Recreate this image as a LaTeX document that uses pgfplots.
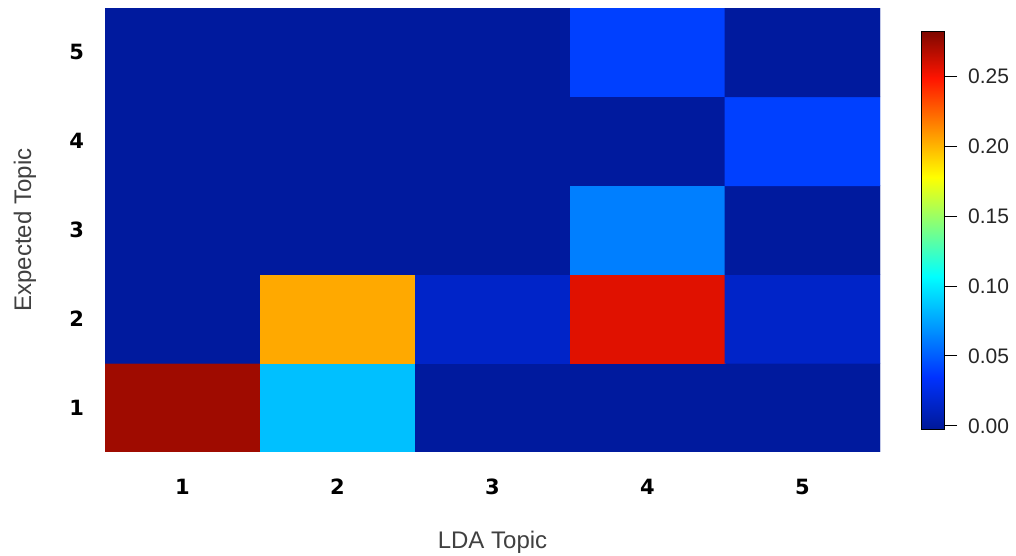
\documentclass[border=0pt]{standalone}
\usepackage{pgfplots}
\pgfplotsset{compat=1.18}
\usepackage{fontspec}
\setmainfont{Liberation Sans}
\newfontfamily\tickfont{DejaVu Sans}
\pgfplotsset{colormap={refjet}{rgb255(0cm)=(0,24,150) rgb255(38cm)=(0,50,255) rgb255(110cm)=(0,255,255) rgb255(181cm)=(255,255,0) rgb255(252cm)=(255,20,0) rgb255(285cm)=(128,8,0)}}
\begin{document}
\begin{tikzpicture}
\useasboundingbox (0,0) rectangle (508pt,278pt);
\begin{axis}[
  at={(52.5pt,52pt)}, anchor=south west,
  scale only axis, width=387.5pt, height=222pt,
  xmin=0.5, xmax=5.5, ymin=0.5, ymax=5.5,
  axis line style={draw=none},
  major tick style={draw=none},
  xtick={1,2,3,4,5}, ytick={1,2,3,4,5},
  /pgf/number format/assume math mode=true,
  ticklabel style={font=\tickfont\bfseries\fontsize{10.5}{13}\selectfont, text=black},
  xticklabel style={yshift=-10pt},
  yticklabel style={xshift=-7pt},
  xlabel={LDA Topic}, ylabel={Expected Topic},
  label style={font=\fontsize{12}{14}\selectfont, text=black!75},
  xlabel style={at={(axis description cs:0.5,-0.203)}, anchor=center},
  ylabel style={at={(axis description cs:-0.1032,0.5)}, anchor=center},
  colormap name=refjet,
  point meta min=-0.003, point meta max=0.282,
  colorbar,
  colorbar style={
    at={(1.0529,0.946)}, anchor=north west,
    width=11.5pt, height=199pt,
    ytick={0,0.05,0.10,0.15,0.20,0.25},
    ytick pos=right,
    tick align=outside,
    major tick length=6.5pt,
    major tick style={black, line width=0.5pt},
    axis line style={black, line width=0.5pt},
    yticklabel style={/pgf/number format/fixed, /pgf/number format/fixed zerofill, /pgf/number format/precision=2, /pgf/number format/assume math mode=true, font=\fontsize{10.5}{12}\selectfont, text=black!85, xshift=2pt},
  },
]
\addplot[matrix plot*, mesh/cols=5, point meta=explicit] table[meta=c] {
x y c
1 1 0.274
2 1 0.085
3 1 0.000
4 1 0.000
5 1 0.000
1 2 0.000
2 2 0.204
3 2 0.015
4 2 0.257
5 2 0.015
1 3 0.000
2 3 0.000
3 3 0.000
4 3 0.062
5 3 0.000
1 4 0.000
2 4 0.000
3 4 0.000
4 4 0.000
5 4 0.040
1 5 0.000
2 5 0.000
3 5 0.000
4 5 0.040
5 5 0.000
};
\end{axis}
\end{tikzpicture}
\end{document}
